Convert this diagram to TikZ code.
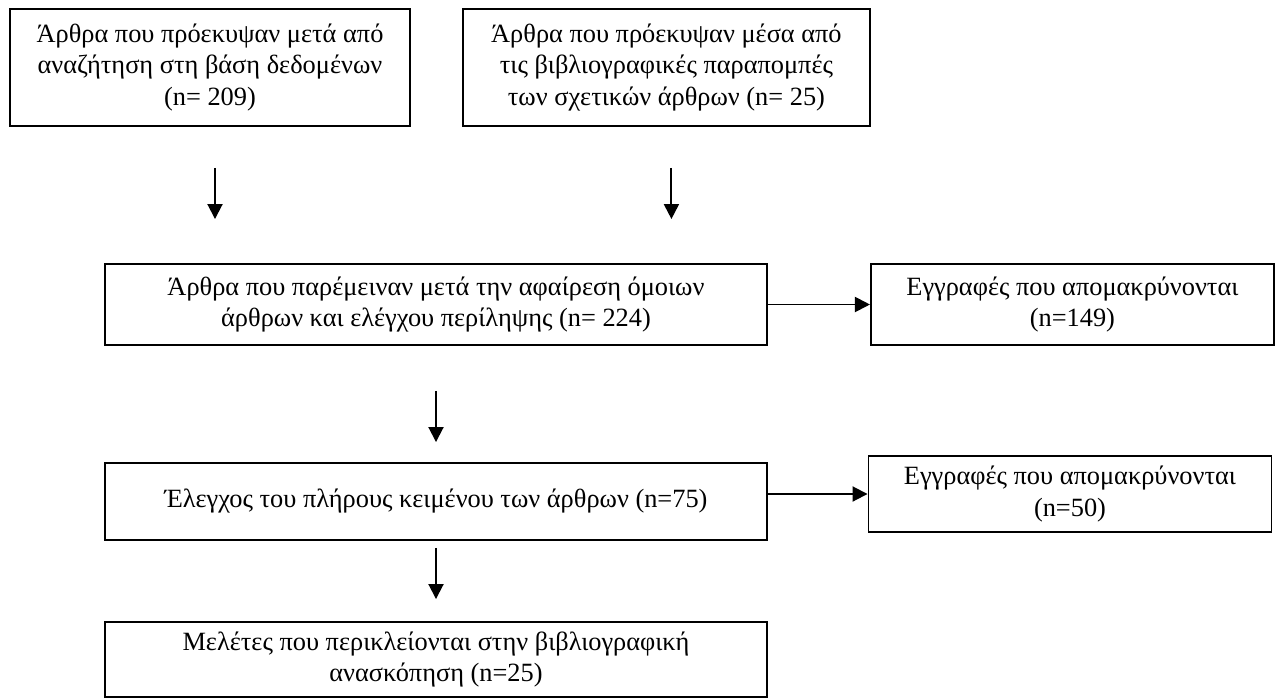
\documentclass[tikz,border=0pt]{standalone}
\usepackage{fontspec}
\setmainfont{Liberation Serif}
\usetikzlibrary{arrows.meta,positioning}
\tikzset{
  box/.style={rectangle, draw=black, line width=1.1pt, fill=white, align=center,
              inner sep=4pt, font=\fontsize{15}{18}\selectfont},
  ar/.style={-{Triangle[length=3mm,width=3mm]}, line width=1.1pt}
}

\begin{document}
\begin{tikzpicture}[
  topbox/.style={box, minimum height=2.34cm},
  midbox/.style={box, minimum width=13.24cm},
  outbox/.style={box, minimum width=8.06cm}
]
\useasboundingbox (0,0) rectangle (25.6,-14);
\node[topbox, minimum width=8cm] (srch) at (4.2,-1.35) {Άρθρα που πρόεκυψαν μετά από\\ αναζήτηση στη βάση δεδομένων\\ (n= 209)};
\node[topbox, minimum width=8.14cm, right=1.02cm of srch] (refs) {Άρθρα που πρόεκυψαν μέσα από\\ τις βιβλιογραφικές παραπομπές\\ των σχετικών άρθρων (n= 25)};
\node[midbox, minimum height=1.62cm] (kept) at (8.72,-6.09) {Άρθρα που παρέμειναν μετά την αφαίρεση όμοιων\\ άρθρων και ελέγχου περίληψης (n= 224)};
\node[outbox, minimum height=1.62cm, right=2.04cm of kept] (rmA) {Εγγραφές που απομακρύνονται\\ (n=149)};
\node[midbox, minimum height=1.54cm] (full) at (8.72,-10.03) {Έλεγχος του πλήρους κειμένου των άρθρων (n=75)};
\node[outbox, minimum height=1.52cm] (rmB) at (21.4,-9.88) {Εγγραφές που απομακρύνονται\\ (n=50)};
\node[midbox, minimum height=1.5cm] (incl) at (8.72,-13.19) {Μελέτες που περικλείονται στην βιβλιογραφική\\ ανασκόπηση (n=25)};
% vertical arrows
\draw[ar, shorten <=0.82cm, shorten >=0.88cm] ([xshift=1mm]srch.south) -- ([xshift=1mm]srch.south |- kept.north);
\draw[ar, shorten <=0.82cm, shorten >=0.88cm] ([xshift=1mm]refs.south) -- ([xshift=1mm]refs.south |- kept.north);
\draw[ar, shorten <=0.9cm, shorten >=0.4cm] (kept.south) -- (full.north);
\draw[ar, shorten <=0.14cm, shorten >=0.44cm] (full.south) -- (incl.north);
% removed records
\draw[ar] (kept.east) -- (rmA.west);
\draw[ar] (full.east |- rmB.west) -- (rmB.west);
\end{tikzpicture}
\end{document}
